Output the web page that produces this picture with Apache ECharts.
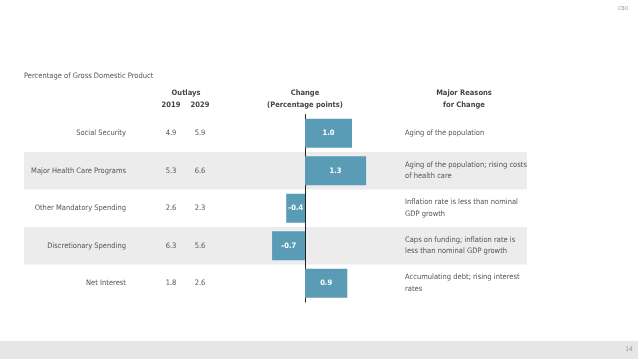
<!DOCTYPE html>
<html><head><meta charset="utf-8">
<script src="https://cdn.jsdelivr.net/npm/echarts@6/dist/echarts.min.js"></script>
<style>html,body{margin:0;padding:0;background:#fff}#c{width:638px;height:359px}</style>
</head><body><div id="c"></div>
<script>
var categories = ['Social Security','Major Health Care Programs','Other Mandatory Spending','Discretionary Spending','Net Interest'];
var outlays2019 = ['4.9','5.3','2.6','6.3','1.8'];
var outlays2029 = ['5.9','6.6','2.3','5.6','2.6'];
var change = [1.0, 1.3, -0.4, -0.7, 0.9];
var reasons = ['Aging of the population','Aging of the population; rising costs\nof health care','Inflation rate is less than nominal\nGDP growth','Caps on funding; inflation rate is\nless than nominal GDP growth','Accumulating debt; rising interest\nrates'];

var FONT = '"Liberation Sans Narrow","DejaVu Sans Condensed",sans-serif';
var TXT = '#555';
var FS = 7.5;
var TOP = 114.5, H = 187.5;
var chart = echarts.init(document.getElementById('c'));
function t(text, x, y, bold, align, size, color){
  return {type:'text', x:x, y:y, style:{text:text, fill:color||'#444', font:(bold?'bold ':'')+(size||FS)+'px '+FONT, align:align||'center', verticalAlign:'middle'}};
}
chart.setOption({
  animation:false,
  textStyle:{fontFamily:FONT},
  grid:[
    {left:24, width:503, top:TOP, height:H},
    {left:258, width:141, top:TOP, height:H}
  ],
  xAxis:[
    {gridIndex:0, type:'value', min:0, max:1, show:false},
    {gridIndex:1, type:'value', min:-1, max:2, show:false}
  ],
  yAxis:[
    {gridIndex:0, type:'category', data:categories, inverse:true, axisLine:{show:false}, axisTick:{show:false}, axisLabel:{show:false}, splitLine:{show:false},
     splitArea:{show:true, areaStyle:{color:['rgba(0,0,0,0)','#ececec']}}},
    {gridIndex:1, type:'category', data:categories, inverse:true, position:'left', axisTick:{show:false}, splitLine:{show:false},
     axisLine:{show:false, onZero:false},
     axisLabel:{interval:0, margin:132, align:'right', color:TXT, fontSize:FS, fontFamily:FONT}},
    {gridIndex:1, type:'category', data:outlays2019, inverse:true, position:'left', axisTick:{show:false}, axisLine:{show:false, onZero:false},
     axisLabel:{interval:0, margin:87, align:'center', color:TXT, fontSize:FS, fontFamily:FONT}},
    {gridIndex:1, type:'category', data:outlays2029, inverse:true, position:'left', axisTick:{show:false}, axisLine:{show:false, onZero:false},
     axisLabel:{interval:0, margin:58, align:'center', color:TXT, fontSize:FS, fontFamily:FONT}},
    {gridIndex:1, type:'category', data:reasons, inverse:true, position:'right', axisTick:{show:false}, axisLine:{show:false, onZero:false},
     axisLabel:{interval:0, margin:6, align:'left', color:TXT, fontSize:FS, lineHeight:11.5, fontFamily:FONT}},
    {gridIndex:1, type:'category', data:categories, inverse:true, position:'left', axisTick:{show:false}, axisLabel:{show:false},
     axisLine:{show:true, onZero:true, lineStyle:{color:'#222', width:1}}}
  ],
  series:[
    {type:'bar', xAxisIndex:1, yAxisIndex:1, data:change, barWidth:29,
     itemStyle:{color:'#5a9bb6'},
     label:{show:true, position:'inside', color:'#fff', fontWeight:'bold', fontSize:FS, fontFamily:FONT,
       formatter:function(p){var v=p.value; return (v<0?'\u2013':'')+Math.abs(v).toFixed(1);}}
    }
  ],
  graphic:[
    {type:'rect', left:0, top:341, shape:{width:638, height:18}, style:{fill:'#e6e6e6'}},
    t('14', 629, 349, false, 'center', 6.5, '#999'),
    t('CBO', 623, 9, false, 'center', 5.5, '#999'),
    t('Percentage of Gross Domestic Product', 24, 76, false, 'left', FS, TXT),
    t('Outlays', 186, 93, true),
    t('2019', 171, 105, true),
    t('2029', 200, 105, true),
    t('Change', 305, 93, true),
    t('(Percentage points)', 305, 105, true),
    t('Major Reasons', 464, 93, true),
    t('for Change', 464, 105, true)
  ]
});
</script></body></html>
